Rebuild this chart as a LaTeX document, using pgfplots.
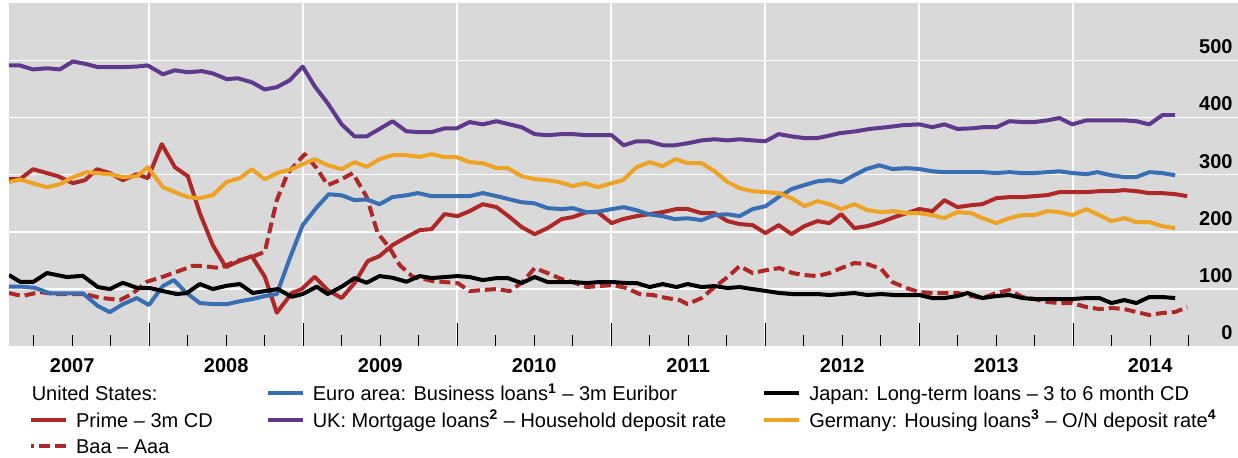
\documentclass[border=0pt]{standalone}
\usepackage{pgfplots}
\pgfplotsset{compat=1.18}
\usepackage{fontspec}
\setmainfont{Liberation Sans}
\definecolor{bisred}{RGB}{175,40,40}
\definecolor{bisblue}{RGB}{58,110,180}
\definecolor{bispurple}{RGB}{95,58,140}
\definecolor{bisorange}{RGB}{238,163,36}
\definecolor{bggray}{RGB}{217,217,217}
\begin{document}
\begin{tikzpicture}
\path[use as bounding box] (-4.5pt,-55.75pt) rectangle (614.5pt,173.25pt);
\begin{axis}[
  width=614.5pt, height=171.75pt, scale only axis,
  xmin=2007.09, xmax=2015.07, ymin=0, ymax=600,
  axis background/.style={fill=bggray},
  axis line style={draw=none},
  /pgf/number format/assume math mode=true,
  ytick={0,100,...,500},
  yticklabel pos=right,
  ytick style={draw=none},
  ymajorgrids,
  major grid style={white, line width=0.75pt},
  yticklabel style={anchor=south east, inner xsep=2.5pt, inner ysep=3pt},
  xtick={2007.5,2008.5,2009.5,2010.5,2011.5,2012.5,2013.5,2014.5},
  xticklabels={2007,2008,2009,2010,2011,2012,2013,2014},
  minor xtick={2007.25,2007.75,...,2014.75},
  xtick pos=left,
  tick align=inside,
  major tick length=5.5pt, minor tick length=5.5pt,
  xtick style={black, line width=0.5pt},
  extra x ticks={2008,2009,2010,2011,2012,2013,2014},
  extra x tick labels={},
  extra x tick style={grid=major, major tick length=11.5pt},
  xticklabel style={yshift=-2.3pt},
  tick label style={font=\bfseries\fontsize{10}{12}\selectfont},
  legend columns=3,
  legend cell align=left,
  legend image code/.code={\draw[#1, dash phase=4.2pt] (0pt,0pt) -- (17.5pt,0pt);},
  legend style={draw=none, fill=none, inner sep=0pt,
    at={(axis description cs:0.01603,-0.1121)}, anchor=north west,
    font=\fontsize{10}{12}\selectfont,
    row sep=5.25pt,
    nodes={inner sep=0pt, text height=7.6pt, text depth=0.4pt},
    /tikz/every odd column/.append style={column sep=4pt},
    /tikz/column 2/.style={column sep=26.5pt},
    /tikz/column 4/.style={column sep=18pt}},
  every axis plot/.append style={line width=2pt, line join=round},
]
% Prime - 3m CD
\addplot[bisred, forget plot] coordinates {
(2007.090,292.3) (2007.162,292.3) (2007.246,309.7) (2007.337,302.8) (2007.408,297.5)
(2007.505,285.3) (2007.583,290.5) (2007.661,309.7) (2007.745,302.8) (2007.829,290.5)
(2007.920,301.0) (2007.992,294.0) (2008.082,353.4) (2008.167,313.2) (2008.251,297.5)
(2008.329,233.0) (2008.413,177.1) (2008.498,138.7) (2008.570,147.5) (2008.666,157.9)
(2008.751,121.8) (2008.829,59.0) (2008.926,93.4) (2008.991,100.3) (2009.075,121.8)
(2009.159,98.6) (2009.250,84.6) (2009.334,110.8) (2009.419,149.2) (2009.496,157.9)
(2009.580,177.1) (2009.671,191.1) (2009.757,203.3) (2009.834,205.0) (2009.918,231.2)
(2010.003,227.7) (2010.081,236.4) (2010.166,248.6) (2010.256,243.4) (2010.341,226.0)
(2010.419,208.5) (2010.503,196.3) (2010.587,206.8) (2010.678,222.5) (2010.750,226.0)
(2010.841,234.7) (2010.912,234.7) (2011.003,215.5) (2011.075,222.5) (2011.165,227.7)
(2011.250,231.2) (2011.334,234.7) (2011.425,240.2) (2011.496,240.2) (2011.587,232.8)
(2011.671,232.8) (2011.756,219.0) (2011.834,213.8) (2011.918,212.0) (2012.002,198.1)
(2012.087,212.0) (2012.171,196.3) (2012.255,210.3) (2012.339,219.0) (2012.417,215.5)
(2012.494,231.2) (2012.579,206.8) (2012.663,210.3) (2012.754,217.3) (2012.838,226.0)
(2012.917,232.8) (2013.001,240.2) (2013.086,236.4) (2013.164,255.6) (2013.248,243.4)
(2013.339,246.9) (2013.410,248.6) (2013.501,259.1) (2013.585,260.9) (2013.670,260.9)
(2013.748,262.6) (2013.832,264.4) (2013.910,269.6) (2013.994,269.6) (2014.085,269.6)
(2014.170,271.3) (2014.254,271.3) (2014.332,273.1) (2014.410,271.3) (2014.494,267.9)
(2014.578,267.9) (2014.662,266.1) (2014.740,262.6)
};
% Baa - Aaa
\addplot[bisred, dash pattern=on 5.5pt off 2.5pt, forget plot] coordinates {
(2007.090,93.4) (2007.174,88.1) (2007.291,95.1) (2007.389,91.6) (2007.486,91.6)
(2007.583,91.6) (2007.680,85.2) (2007.810,81.1) (2007.888,91.6) (2007.985,113.1)
(2008.089,121.8) (2008.180,130.5) (2008.284,141.0) (2008.349,140.5) (2008.459,137.0)
(2008.570,149.7) (2008.666,156.2) (2008.751,165.4) (2008.829,255.6) (2008.900,302.8)
(2009.010,335.9) (2009.088,311.5) (2009.159,281.8) (2009.237,290.5) (2009.322,302.8)
(2009.412,261.4) (2009.484,198.1) (2009.562,171.9) (2009.627,142.2) (2009.711,121.8)
(2009.757,119.5) (2009.841,114.3) (2009.919,112.5) (2010.003,110.8) (2010.081,96.8)
(2010.166,98.6) (2010.256,100.3) (2010.341,96.8) (2010.425,112.5) (2010.503,137.0)
(2010.587,128.3) (2010.678,117.8) (2010.750,112.5) (2010.841,103.8) (2010.925,105.6)
(2011.009,107.3) (2011.100,102.1) (2011.184,91.6) (2011.269,89.9) (2011.360,84.6)
(2011.444,81.1) (2011.496,74.1) (2011.587,84.6) (2011.671,103.8) (2011.756,121.3)
(2011.834,140.5) (2011.918,128.3) (2012.009,133.5) (2012.093,137.0) (2012.178,128.3)
(2012.255,124.8) (2012.339,123.0) (2012.417,128.3) (2012.494,137.0) (2012.579,145.7)
(2012.663,144.0) (2012.754,135.2) (2012.826,112.5) (2012.917,102.1) (2013.001,95.1)
(2013.086,93.4) (2013.164,93.4) (2013.248,93.4) (2013.339,88.1) (2013.410,84.6)
(2013.501,93.4) (2013.585,98.6) (2013.670,86.4) (2013.748,82.9) (2013.832,77.7)
(2013.910,75.9) (2013.994,75.9) (2014.085,68.9) (2014.170,65.4) (2014.254,67.2)
(2014.332,65.4) (2014.410,60.2) (2014.494,55.0) (2014.578,58.5) (2014.662,60.2)
(2014.740,68.9)
};
% Euro area
\addplot[bisblue, forget plot] coordinates {
(2007.090,104.5) (2007.175,104.5) (2007.257,102.5) (2007.355,93.0) (2007.465,93.0)
(2007.569,93.0) (2007.667,70.7) (2007.745,60.0) (2007.830,74.0) (2007.920,84.6)
(2007.998,72.4) (2008.089,105.6) (2008.160,116.0) (2008.245,93.0) (2008.329,75.9)
(2008.413,74.0) (2008.504,74.0) (2008.589,79.0) (2008.673,83.0) (2008.750,88.0)
(2008.829,91.6) (2008.913,154.0) (2008.997,212.0) (2009.088,243.0) (2009.166,266.0)
(2009.250,264.0) (2009.334,255.6) (2009.412,257.0) (2009.496,248.5) (2009.580,261.0)
(2009.670,264.0) (2009.744,268.0) (2009.834,262.6) (2009.918,262.6) (2009.997,262.6)
(2010.081,262.6) (2010.166,268.0) (2010.256,262.6) (2010.341,257.0) (2010.419,252.0)
(2010.503,250.0) (2010.587,241.7) (2010.678,240.0) (2010.750,241.7) (2010.841,234.5)
(2010.925,236.0) (2011.003,240.0) (2011.081,243.4) (2011.165,238.0) (2011.243,231.0)
(2011.334,227.7) (2011.412,222.5) (2011.496,224.0) (2011.587,220.7) (2011.671,229.5)
(2011.756,231.0) (2011.834,227.7) (2011.918,240.0) (2012.002,245.0) (2012.087,261.0)
(2012.171,275.0) (2012.255,282.0) (2012.339,288.6) (2012.417,290.5) (2012.494,287.0)
(2012.566,297.5) (2012.657,310.0) (2012.741,316.5) (2012.826,310.0) (2012.917,311.5)
(2013.001,310.0) (2013.086,306.0) (2013.164,304.5) (2013.248,304.5) (2013.339,304.5)
(2013.410,304.5) (2013.501,303.0) (2013.585,304.5) (2013.670,303.0) (2013.748,303.0)
(2013.832,304.5) (2013.910,306.0) (2013.994,303.0) (2014.085,301.0) (2014.157,304.5)
(2014.248,299.0) (2014.332,296.0) (2014.410,296.0) (2014.494,304.5) (2014.578,303.0)
(2014.662,299.0)
};
% UK
\addplot[bispurple, forget plot] coordinates {
(2007.090,491.0) (2007.160,491.0) (2007.245,484.0) (2007.336,486.0) (2007.420,484.0)
(2007.505,498.0) (2007.596,493.0) (2007.667,488.0) (2007.745,488.0) (2007.830,488.0)
(2007.920,489.0) (2007.990,491.0) (2008.089,475.5) (2008.167,482.5) (2008.251,479.0)
(2008.342,481.0) (2008.413,477.0) (2008.504,467.0) (2008.576,468.5) (2008.667,461.5)
(2008.750,449.0) (2008.829,453.0) (2008.913,465.0) (2008.997,489.0) (2009.075,454.5)
(2009.159,425.0) (2009.250,388.0) (2009.334,367.0) (2009.412,367.0) (2009.496,380.0)
(2009.580,393.5) (2009.670,376.0) (2009.744,374.5) (2009.834,374.5) (2009.918,381.0)
(2009.997,381.0) (2010.081,392.0) (2010.166,388.0) (2010.256,393.5) (2010.341,388.0)
(2010.419,383.0) (2010.503,371.0) (2010.587,369.0) (2010.678,371.0) (2010.750,371.0)
(2010.841,369.0) (2010.925,369.0) (2011.003,369.0) (2011.081,351.5) (2011.165,358.5)
(2011.243,358.5) (2011.334,351.5) (2011.412,351.5) (2011.496,355.0) (2011.587,360.0)
(2011.671,362.0) (2011.756,360.0) (2011.834,362.0) (2011.918,360.0) (2012.002,358.5)
(2012.087,371.0) (2012.171,367.0) (2012.255,364.0) (2012.339,364.0) (2012.410,368.0)
(2012.482,372.5) (2012.592,376.0) (2012.677,380.0) (2012.787,383.0) (2012.891,386.5)
(2013.001,388.0) (2013.086,383.0) (2013.164,388.0) (2013.248,380.0) (2013.339,381.0)
(2013.410,383.0) (2013.501,383.0) (2013.585,393.5) (2013.670,392.0) (2013.748,392.0)
(2013.832,395.0) (2013.910,399.0) (2013.994,388.0) (2014.085,395.0) (2014.170,395.0)
(2014.254,395.0) (2014.332,395.0) (2014.410,393.5) (2014.494,388.0) (2014.578,404.0)
(2014.662,404.0)
};
% Japan
\addplot[black, forget plot] coordinates {
(2007.090,124.8) (2007.162,113.1) (2007.246,112.6) (2007.337,128.3) (2007.466,121.3)
(2007.569,123.5) (2007.667,103.8) (2007.745,100.3) (2007.829,111.3) (2007.920,102.6)
(2008.005,102.1) (2008.089,96.8) (2008.180,91.6) (2008.245,93.4) (2008.329,109.1)
(2008.413,100.3) (2008.504,106.1) (2008.589,109.1) (2008.673,93.4) (2008.751,96.8)
(2008.835,100.3) (2008.926,86.9) (2008.997,91.6) (2009.088,104.4) (2009.159,91.6)
(2009.250,104.4) (2009.334,119.5) (2009.412,111.3) (2009.496,123.0) (2009.580,120.1)
(2009.671,113.1) (2009.757,123.0) (2009.834,119.5) (2009.918,121.3) (2010.003,123.0)
(2010.081,121.3) (2010.166,116.0) (2010.256,119.5) (2010.328,119.5) (2010.419,110.8)
(2010.503,121.3) (2010.587,112.6) (2010.678,112.6) (2010.750,112.6) (2010.841,110.8)
(2010.925,112.6) (2011.009,112.6) (2011.100,110.8) (2011.165,110.8) (2011.250,103.8)
(2011.334,109.1) (2011.425,103.8) (2011.496,109.1) (2011.587,103.8) (2011.671,105.6)
(2011.756,102.1) (2011.834,103.8) (2011.918,100.3) (2012.009,96.8) (2012.093,93.4)
(2012.178,91.6) (2012.255,91.6) (2012.339,91.6) (2012.417,89.9) (2012.494,91.6)
(2012.579,93.4) (2012.663,89.9) (2012.754,91.6) (2012.838,89.9) (2012.917,89.9)
(2013.001,89.9) (2013.086,84.6) (2013.164,84.6) (2013.248,88.1) (2013.313,93.4)
(2013.410,84.6) (2013.501,88.1) (2013.585,89.9) (2013.670,84.6) (2013.748,82.9)
(2013.832,82.9) (2013.910,82.9) (2013.994,82.9) (2014.085,84.6) (2014.170,84.6)
(2014.248,75.9) (2014.332,81.1) (2014.410,75.9) (2014.494,86.4) (2014.578,86.4)
(2014.662,84.6)
};
% Germany
\addplot[bisorange, forget plot] coordinates {
(2007.090,287.0) (2007.162,291.9) (2007.246,285.0) (2007.337,278.3) (2007.421,283.6)
(2007.505,295.8) (2007.596,304.5) (2007.667,302.8) (2007.745,301.0) (2007.829,295.8)
(2007.920,297.5) (2007.992,313.2) (2008.089,278.3) (2008.167,269.6) (2008.251,260.9)
(2008.329,259.1) (2008.413,264.4) (2008.504,287.6) (2008.589,294.0) (2008.666,309.7)
(2008.751,292.3) (2008.835,303.3) (2008.926,309.7) (2008.997,318.5) (2009.075,327.2)
(2009.159,316.7) (2009.250,309.7) (2009.334,322.0) (2009.412,313.8) (2009.496,327.2)
(2009.580,334.2) (2009.671,334.2) (2009.757,331.2) (2009.834,335.9) (2009.918,330.7)
(2009.997,330.7) (2010.081,322.0) (2010.166,320.2) (2010.256,311.5) (2010.328,311.5)
(2010.419,297.5) (2010.503,292.3) (2010.587,290.5) (2010.665,287.0) (2010.750,280.0)
(2010.828,285.3) (2010.912,278.3) (2011.003,285.3) (2011.075,290.5) (2011.165,313.2)
(2011.250,322.0) (2011.334,315.0) (2011.418,327.2) (2011.496,320.2) (2011.587,320.2)
(2011.671,306.3) (2011.756,287.0) (2011.834,276.6) (2011.918,271.3) (2012.002,269.6)
(2012.087,267.9) (2012.171,259.1) (2012.255,245.2) (2012.339,253.9) (2012.417,248.6)
(2012.494,239.9) (2012.579,248.6) (2012.663,238.2) (2012.754,234.7) (2012.838,236.4)
(2012.917,232.8) (2013.001,232.8) (2013.086,229.4) (2013.164,224.2) (2013.248,234.7)
(2013.339,232.8) (2013.410,224.2) (2013.501,215.5) (2013.585,224.2) (2013.670,229.4)
(2013.748,229.4) (2013.832,236.4) (2013.910,234.7) (2013.994,229.4) (2014.085,239.9)
(2014.170,229.4) (2014.248,218.9) (2014.332,224.2) (2014.410,217.3) (2014.494,217.3)
(2014.578,210.3) (2014.662,206.8)
};
% legend, in the reference's row order
\addlegendimage{empty legend}
\addlegendentry{\hspace*{-22.15pt}United States:}
\addlegendimage{bisblue, line width=2pt}
\addlegendentry{Euro area: Business loans\textsuperscript{\bfseries 1} – 3m Euribor}
\addlegendimage{black, line width=2pt}
\addlegendentry{Japan: Long-term loans – 3 to 6 month CD}
\addlegendimage{bisred, line width=2pt}
\addlegendentry{Prime – 3m CD}
\addlegendimage{bispurple, line width=2pt}
\addlegendentry{UK: Mortgage loans\textsuperscript{\bfseries 2} – Household deposit rate}
\addlegendimage{bisorange, line width=2pt}
\addlegendentry{Germany: Housing loans\textsuperscript{\bfseries 3} – O/N deposit rate\textsuperscript{\bfseries 4}}
\addlegendimage{bisred, line width=2pt, dash pattern=on 5.5pt off 2.5pt}
\addlegendentry{Baa – Aaa}
\end{axis}
\end{tikzpicture}
\end{document}
